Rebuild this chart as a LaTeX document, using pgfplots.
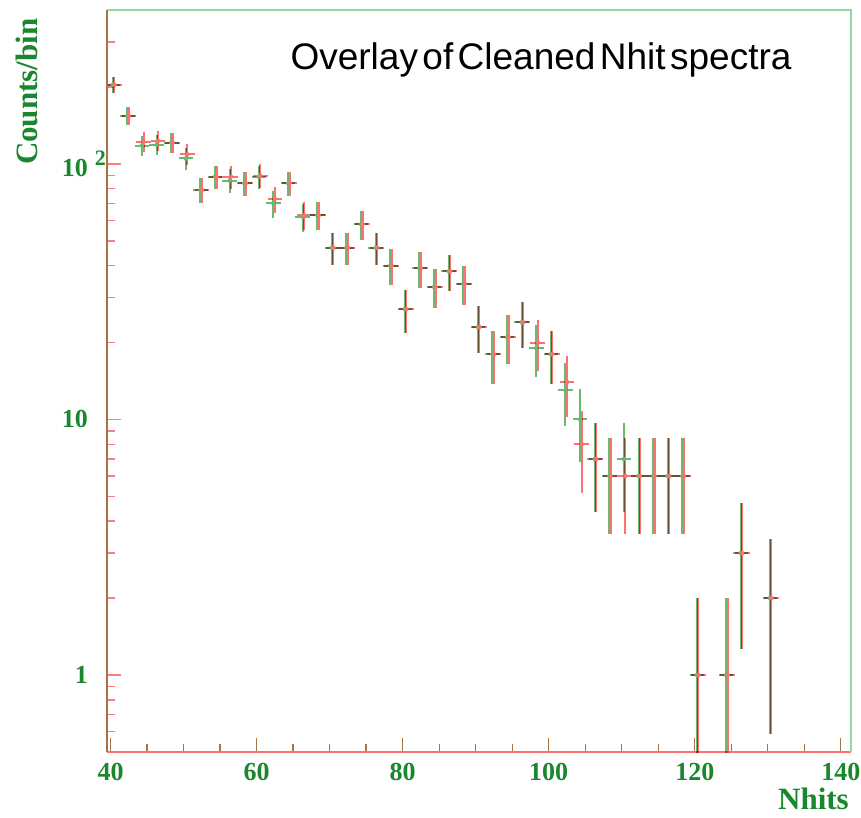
\documentclass[border=0pt]{standalone}
\usepackage{fontspec}
\setmainfont{Liberation Serif}
\newfontfamily\helv{Liberation Sans}
\usepackage{graphicx}
\usepackage{pgfplots}
\pgfplotsset{compat=1.18}
\usetikzlibrary{calc}

\definecolor{hred}{RGB}{255,112,112}
\definecolor{hgreen}{RGB}{105,185,115}
\definecolor{framegreen}{RGB}{150,212,160}
\definecolor{framebrown}{RGB}{165,115,70}
\definecolor{labgreen}{RGB}{25,135,45}
\definecolor{tickred}{RGB}{255,125,125}

% Cleaned Nhit spectrum, first sample: bin centre, counts, half bin width, +err, -err
\pgfplotstableread{
x      y    ex  ep     em
40.5   204  1   14.28  14.28
42.5   154  1   12.41  12.41
44.5   122  1   11.05  11.05
46.5   123  1   11.09  11.09
48.5   121  1   11.00  11.00
50.5   109  1   10.44  10.44
52.5   79   1   8.89   8.89
54.5   89   1   9.43   9.43
56.5   89   1   9.43   9.43
58.5   84   1   9.17   9.17
60.5   90   1   9.49   9.49
62.5   73   1   8.54   8.54
64.5   84   1   9.17   9.17
66.5   63   1   7.94   7.94
68.5   63   1   7.94   7.94
70.5   47   1   6.86   6.86
72.5   47   1   6.86   6.86
74.5   58   1   7.62   7.62
76.5   47   1   6.86   6.86
78.5   40   1   6.32   6.32
80.5   27   1   5.20   5.20
82.5   39   1   6.24   6.24
84.5   33   1   5.74   5.74
86.5   38   1   6.16   6.16
88.5   34   1   5.83   5.83
90.5   23   1   4.80   4.80
92.5   18   1   4.24   4.24
94.5   21   1   4.58   4.58
96.5   24   1   4.90   4.90
98.5   20   1   4.47   4.47
100.5  18   1   4.24   4.24
102.5  14   1   3.74   3.74
104.5  8    1   2.83   2.83
106.5  7    1   2.65   2.65
108.5  6    1   2.45   2.45
110.5  6    1   2.45   2.45
112.5  6    1   2.45   2.45
114.5  6    1   2.45   2.45
116.5  6    1   2.45   2.45
118.5  6    1   2.45   2.45
120.5  1    1   1.00   0.99
124.5  1    1   1.00   0.99
126.5  3    1   1.73   1.73
130.5  2    1   1.41   1.41
}\spectrumA

% Second sample
\pgfplotstableread{
x      y    ex  ep     em
40.5   204  1   14.28  14.28
42.5   154  1   12.41  12.41
44.5   118  1   10.86  10.86
46.5   119  1   10.91  10.91
48.5   121  1   11.00  11.00
50.5   105  1   10.25  10.25
52.5   79   1   8.89   8.89
54.5   89   1   9.43   9.43
56.5   86   1   9.27   9.27
58.5   84   1   9.17   9.17
60.5   89   1   9.43   9.43
62.5   70   1   8.37   8.37
64.5   84   1   9.17   9.17
66.5   62   1   7.87   7.87
68.5   63   1   7.94   7.94
70.5   47   1   6.86   6.86
72.5   47   1   6.86   6.86
74.5   58   1   7.62   7.62
76.5   47   1   6.86   6.86
78.5   40   1   6.32   6.32
80.5   27   1   5.20   5.20
82.5   39   1   6.24   6.24
84.5   33   1   5.74   5.74
86.5   38   1   6.16   6.16
88.5   34   1   5.83   5.83
90.5   23   1   4.80   4.80
92.5   18   1   4.24   4.24
94.5   21   1   4.58   4.58
96.5   24   1   4.90   4.90
98.5   19   1   4.36   4.36
100.5  18   1   4.24   4.24
102.5  13   1   3.61   3.61
104.5  10   1   3.16   3.16
106.5  7    1   2.65   2.65
108.5  6    1   2.45   2.45
110.5  7    1   2.65   2.65
112.5  6    1   2.45   2.45
114.5  6    1   2.45   2.45
116.5  6    1   2.45   2.45
118.5  6    1   2.45   2.45
120.5  1    1   1.00   0.99
124.5  1    1   1.00   0.99
126.5  3    1   1.73   1.73
130.5  2    1   1.41   1.41
}\spectrumB

\newcommand{\tlfont}{\fontsize{26}{26}\selectfont\bfseries}
\newcommand{\labfont}{\fontsize{31}{31}\selectfont\bfseries}
\newcommand{\titlefont}{\helv\fontsize{37}{37}\selectfont}

\begin{document}
\begin{tikzpicture}
\begin{axis}[
  name=ax,
  scale only axis, width=744pt, height=742pt,
  xmin=39.5, xmax=141.4,
  ymode=log, ymin=0.5, ymax=400,
  axis x line*=bottom, axis y line*=left,
  x axis line style={-, draw=hred, line width=1.6pt},
  y axis line style={-, draw=framebrown, line width=2pt},
  tick align=inside,
  xtick={40,60,80,100,120,140},
  xticklabels={40,60,80,100,120,140},
  minor xtick={45,50,55,65,70,75,85,90,95,105,110,115,125,130,135},
  ytick={1,10,100},
  yticklabels={1,10,{10\rlap{\hspace{7pt}\raisebox{0.45em}{\fontsize{22}{22}\selectfont 2}}}},
  minor ytick={0.6,0.7,0.8,0.9,2,3,4,5,6,7,8,9,20,30,40,50,60,70,80,90,200,300},
  major tick length=14pt, minor tick length=8.5pt,
  x tick style={draw=framebrown, line width=1.4pt},
  y tick style={draw=tickred, line width=1.4pt},
  tick label style={font=\tlfont, text=labgreen},
  xticklabel style={anchor=north, inner sep=0pt, yshift=-11pt},
  yticklabel style={anchor=east, inner sep=0pt, xshift=-19pt},
  clip=true,
]
\addplot[hgreen, only marks, mark=none, xshift=-1.5pt,
  error bars/.cd, x dir=both, x explicit, y dir=both, y explicit,
  error mark=none,
  error bar style={line width=2pt, draw=hgreen, blend mode=multiply}]
  table[x=x, y=y, x error=ex, y error plus=ep, y error minus=em] {\spectrumB};
\addplot[hred, only marks, mark=none,
  error bars/.cd, x dir=both, x explicit, y dir=both, y explicit,
  error mark=none,
  error bar style={line width=2pt, draw=hred, blend mode=multiply}]
  table[x=x, y=y, x error=ex, y error plus=ep, y error minus=em] {\spectrumA};
\end{axis}
% frame sides of the second histogram
\draw[framegreen, line width=1.6pt] (ax.north west) -- (ax.north east) -- (ax.south east);
\draw[framebrown, line width=2pt] (ax.south west) -- (ax.north west);
% titles
\node[anchor=base west, font=\titlefont, text=black]
  at ($(ax.north west)+(180pt,-60pt)$) {\spaceskip=0.12em\relax Overlay of Cleaned Nhit spectra};
\node[rotate=90, anchor=east, font=\labfont, text=labgreen]
  at ($(ax.north west)+(-80pt,-5pt)$) {Counts/bin};
\node[anchor=base east, font=\labfont, text=labgreen, inner sep=0pt]
  at ($(ax.south east)+(-2pt,-57pt)$) {Nhits};
\pgfresetboundingbox
\path[use as bounding box] ($(ax.south west)+(-107pt,-65pt)$) rectangle ($(ax.north east)+(10pt,10pt)$);
\end{tikzpicture}
\end{document}
